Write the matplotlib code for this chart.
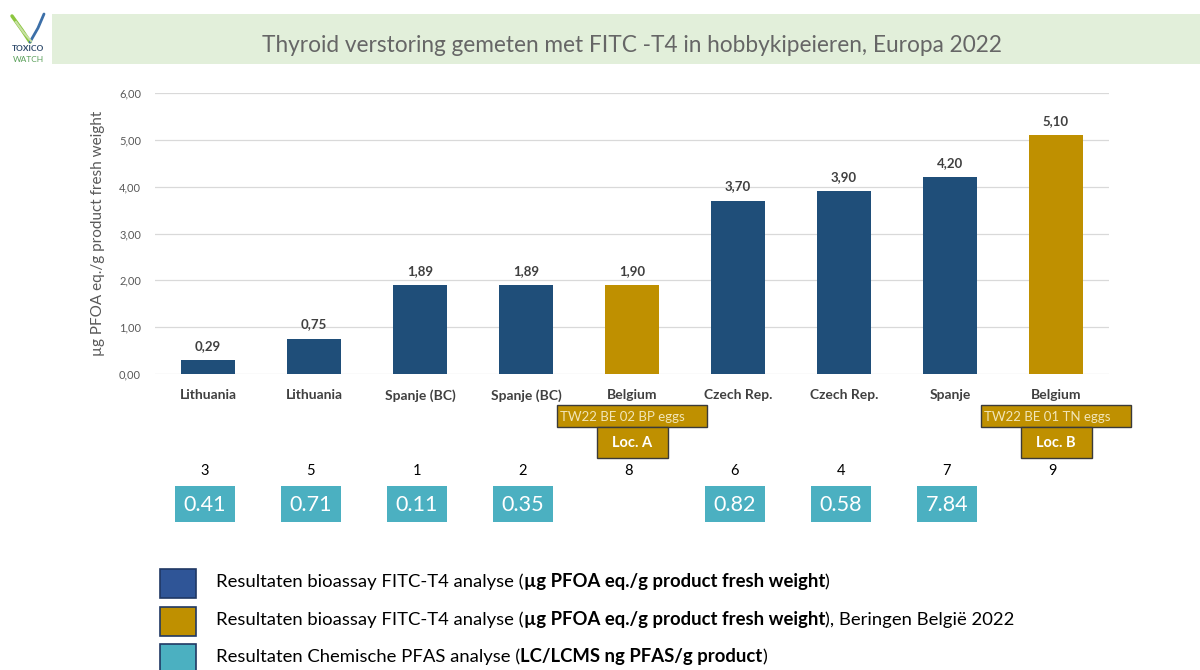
import matplotlib.pyplot as plt
import matplotlib.transforms as mtransforms
from matplotlib.patches import Rectangle

plt.rcParams['font.family'] = ['Lato', 'DejaVu Sans']

# data
countries = ['Lithuania', 'Lithuania', 'Spanje (BC)', 'Spanje (BC)', 'Belgium',
             'Czech Rep.', 'Czech Rep.', 'Spanje', 'Belgium']
fitc_t4 = [0.29, 0.75, 1.89, 1.89, 1.90, 3.70, 3.90, 4.20, 5.10]
beringen = [False, False, False, False, True, False, False, False, True]
sample_no = [3, 5, 1, 2, 8, 6, 4, 7, 9]
pfas = [0.41, 0.71, 0.11, 0.35, None, 0.82, 0.58, 7.84, None]
loc_idx = [4, 8]
loc_codes = ['TW22 BE 02 BP eggs', 'TW22 BE 01 TN eggs']
loc_names = ['Loc. A', 'Loc. B']
yticks = [0, 1, 2, 3, 4, 5, 6]

BLUE = '#1f4e79'
GOLD = '#bf9000'
TEAL = '#4bb0c1'
GREY = '#595959'
DARK = '#404040'

fig = plt.figure(figsize=(12, 6.7), dpi=100)

# overlay in pixel coordinates (y down) for slide decorations
ov = fig.add_axes([0, 0, 1, 1])
ov.set_xlim(0, 1200)
ov.set_ylim(670, 0)
ov.set_axis_off()

# title band
ov.add_patch(Rectangle((52, 14), 1148, 50, color='#e2efda', lw=0))
ov.text(632, 52, 'Thyroid verstoring gemeten met FITC -T4 in hobbykipeieren, Europa 2022',
        ha='center', va='baseline', fontsize=16.3, color='#666666')

# rough logo
ov.plot([12, 22, 30], [16, 30, 42], color='#8cc63f', lw=2.5, solid_capstyle='round')
ov.plot([30, 38, 44], [42, 28, 14], color='#3c6fa8', lw=2, solid_capstyle='round')
ov.plot([16, 24, 31], [22, 33, 41], color='#c7e0a4', lw=1.5)
ov.text(28, 51, 'TOXICO', ha='center', va='baseline', fontsize=6, fontweight='bold', color='#2e4a6b')
ov.text(28, 62, 'WATCH', ha='center', va='baseline', fontsize=6, color='#5aa05a')

ax = fig.add_axes([155 / 1200, 1 - 374 / 670, 954 / 1200, 281 / 670])
x = list(range(len(countries)))
colors = [GOLD if b else BLUE for b in beringen]
bars = ax.bar(x, fitc_t4, width=0.51, color=colors, zorder=3)
ax.bar_label(bars, labels=[f'{v:.2f}'.replace('.', ',') for v in fitc_t4],
             padding=6, fontsize=9.5, fontweight='bold', color=DARK)

ax.set_xlim(-0.5, len(countries) - 0.5)
ax.set_ylim(0, 6)
ax.set_yticks(yticks)
ax.set_yticklabels([f'{v:.2f}'.replace('.', ',') for v in yticks], fontsize=8, color=GREY)
ax.set_xticks(x)
ax.set_xticklabels(countries, fontsize=10, fontweight='bold', color=DARK)
ax.tick_params(length=0)
ax.tick_params(axis='x', pad=11)
ax.tick_params(axis='y', pad=10)
ax.grid(axis='y', color='#d9d9d9', lw=0.9, zorder=0)
for s in ax.spines.values():
    s.set_visible(False)
ax.set_ylabel('µg PFOA eq./g product fresh weight', fontsize=11, color=GREY, labelpad=10)

# below-axis items: x from the category axis, y in slide pixels
tr = mtransforms.blended_transform_factory(ax.transData, ov.transData)

for i, code, name in zip(loc_idx, loc_codes, loc_names):
    w1 = 150 / 106
    ov.add_patch(Rectangle((i - w1 / 2, 405), w1, 22, transform=tr,
                           facecolor=GOLD, edgecolor='#3a3a3a', lw=1, zorder=4))
    ov.text(i - w1 / 2 + 0.03, 417, code, transform=tr, ha='left', va='center',
            fontsize=9.5, color='#f2e6b8', zorder=5)
    w2 = 71 / 106
    ov.add_patch(Rectangle((i - w2 / 2, 427), w2, 31, transform=tr,
                           facecolor=GOLD, edgecolor='#3a3a3a', lw=1, zorder=4))
    ov.text(i, 443, name, transform=tr, ha='center', va='center',
            fontsize=10.5, fontweight='bold', color='white', zorder=5)

for i, (n, v) in enumerate(zip(sample_no, pfas)):
    ov.text(i - 0.03, 471, str(n), transform=tr, ha='center', va='center',
            fontsize=10.5, color='black')
    if v is None:
        continue
    w = 60 / 106
    ov.add_patch(Rectangle((i - 0.03 - w / 2, 486), w, 36, transform=tr,
                           facecolor=TEAL, lw=0))
    ov.text(i - 0.03, 505, f'{v:.2f}', transform=tr, ha='center', va='center',
            fontsize=15.5, color='white')

# legend with mixed bold text
legend_rows = [
    ('#2f5597', '#203864', [('Resultaten bioassay FITC-T4 analyse (', 'normal'),
                            ('µg PFOA eq./g product fresh weight', 'bold'),
                            (')', 'normal')]),
    (GOLD, '#203864', [('Resultaten bioassay FITC-T4 analyse (', 'normal'),
                       ('µg PFOA eq./g product fresh weight', 'bold'),
                       ('), Beringen België 2022', 'normal')]),
    (TEAL, '#203864', [('Resultaten Chemische PFAS analyse (', 'normal'),
                       ('LC/LCMS ng PFAS/g product', 'bold'),
                       (')', 'normal')]),
]
row_y = [582, 620, 657]
for (fc, ec, parts), yy in zip(legend_rows, row_y):
    ov.add_patch(Rectangle((160, yy - 13), 36, 29, facecolor=fc, edgecolor=ec, lw=1.2))
    prev = ov.text(216, yy, parts[0][0], ha='left', va='center', fontsize=13.3,
                   fontweight=parts[0][1], color='black')
    for txt, wt in parts[1:]:
        prev = ov.annotate(txt, xy=(1, 0), xycoords=prev, ha='left', va='bottom',
                           fontsize=13.3, fontweight=wt, color='black')

fig.savefig('out.png', dpi=100)
